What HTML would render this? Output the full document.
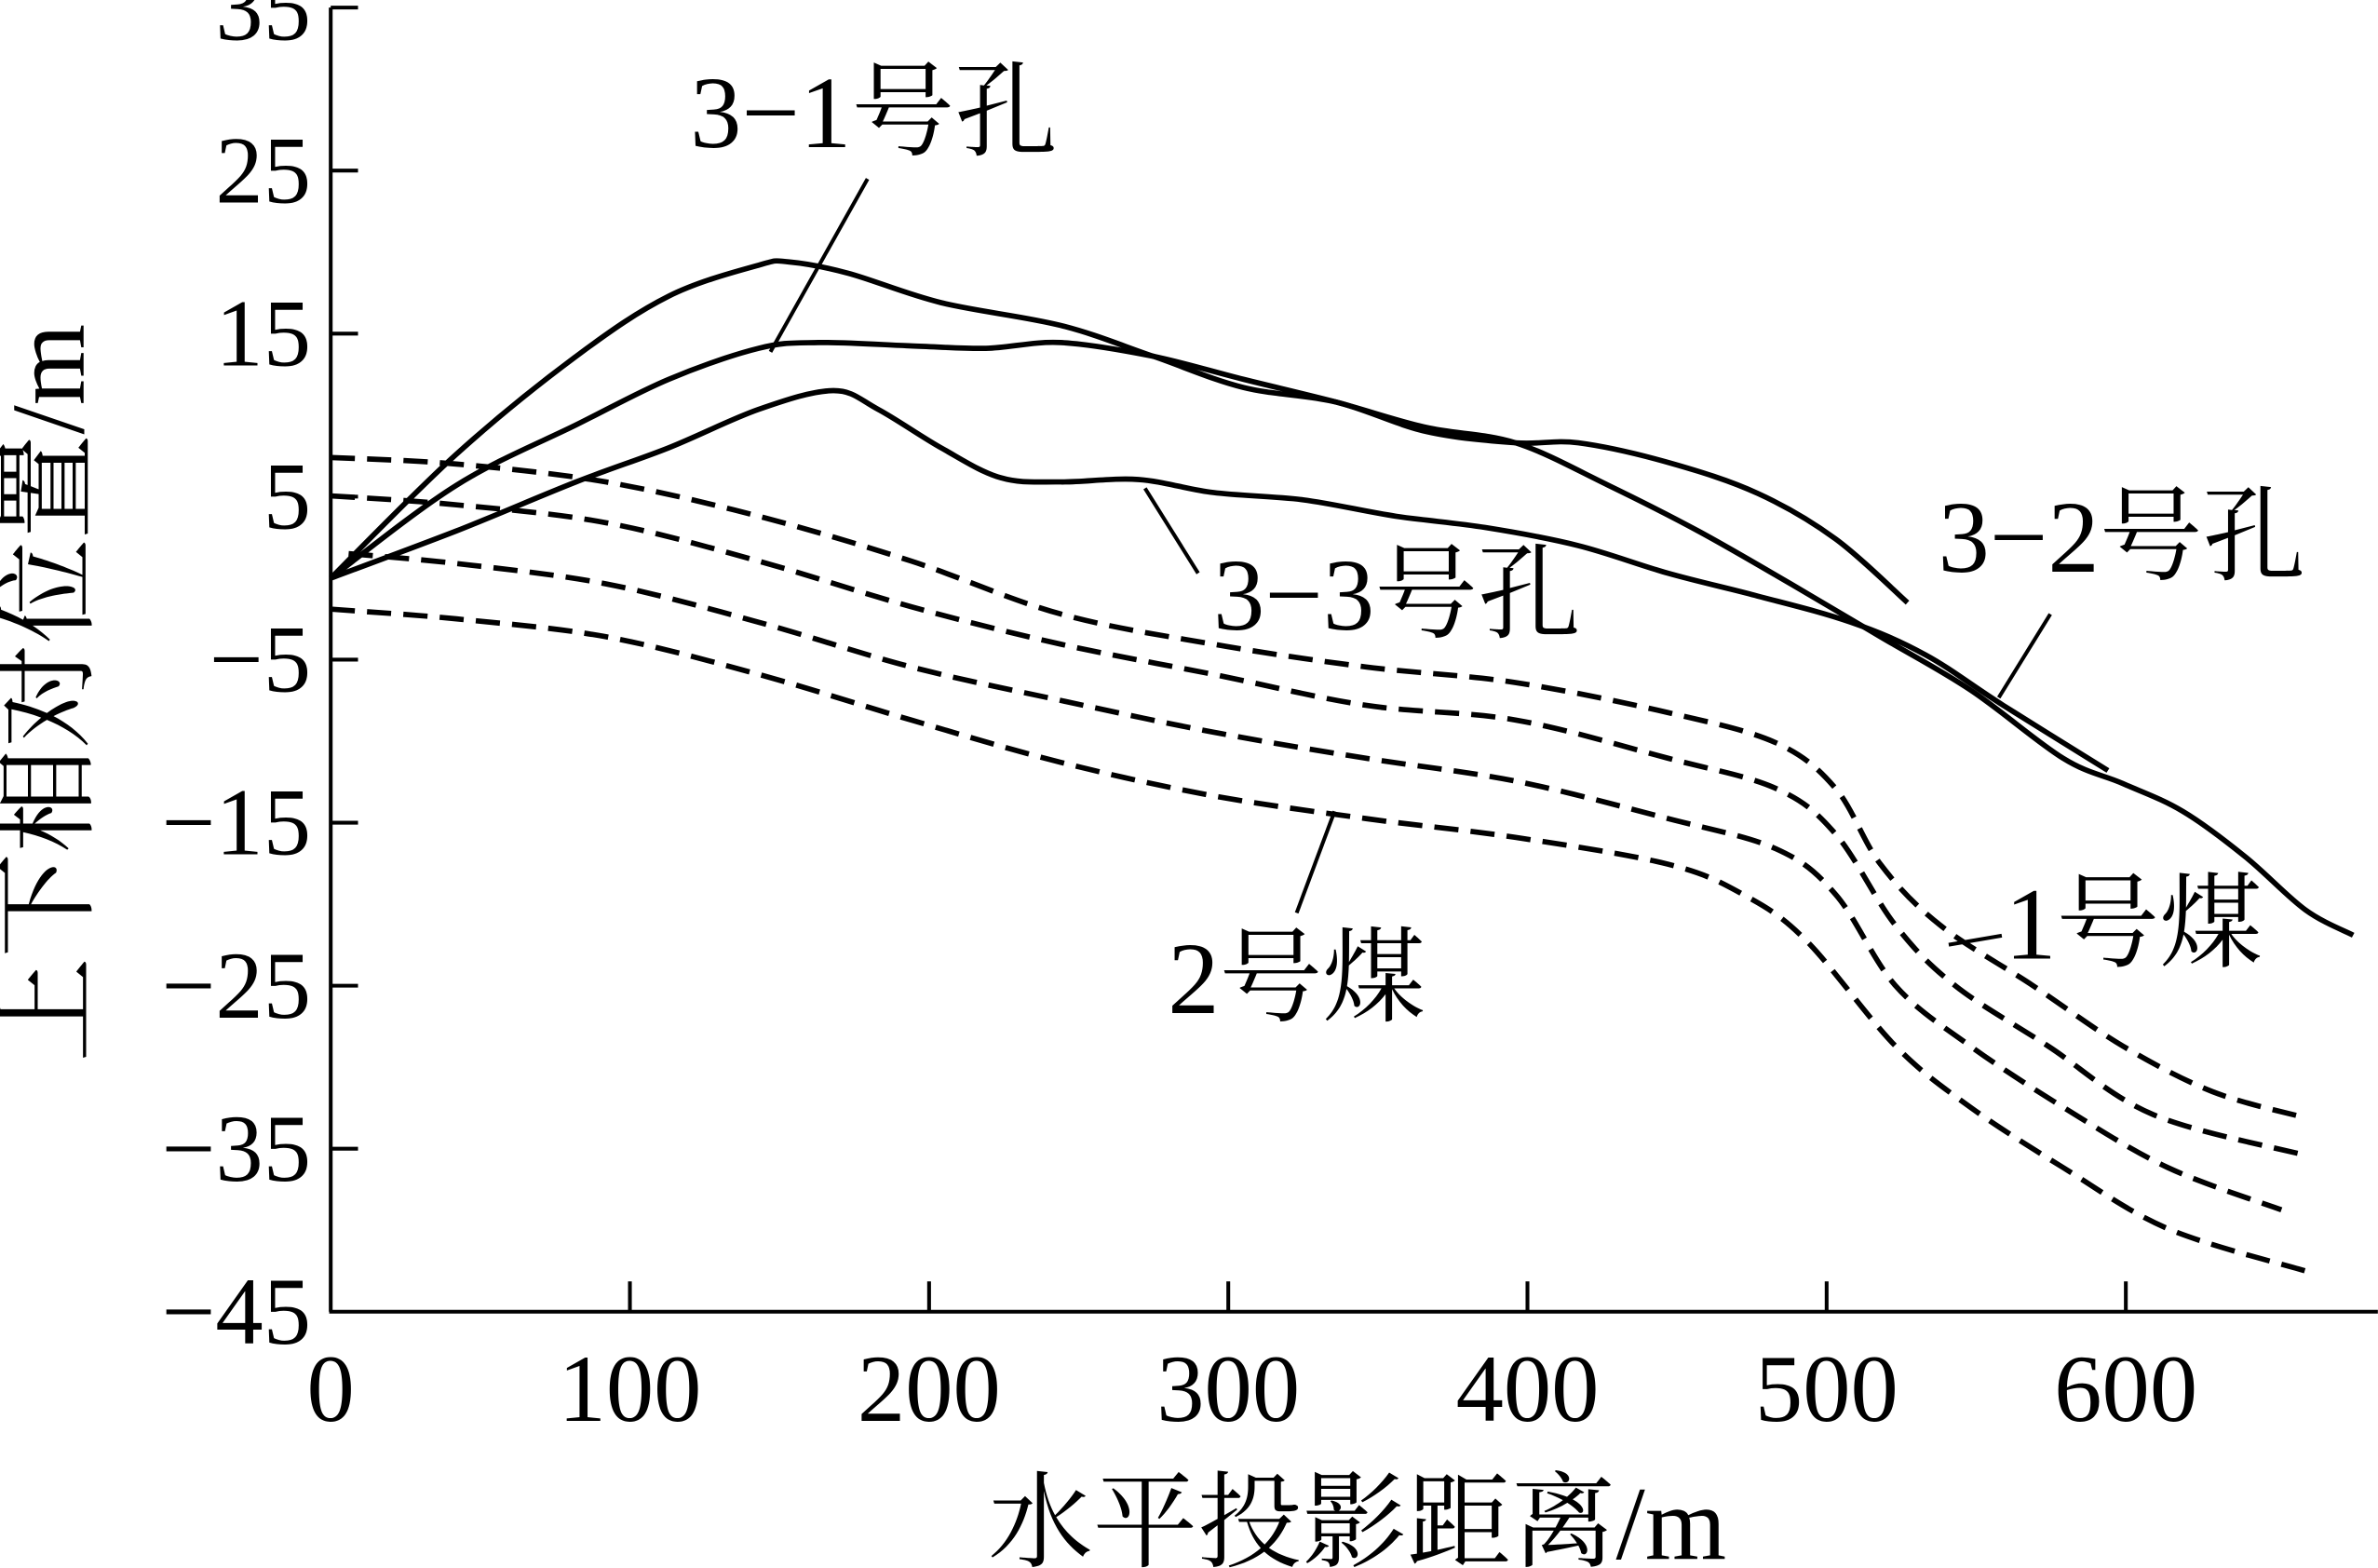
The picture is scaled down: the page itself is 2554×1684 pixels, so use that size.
<!DOCTYPE html>
<html><head><meta charset="utf-8"><style>
html,body{margin:0;padding:0;background:#fff;}
svg{display:block;}
text{font-family:"Liberation Serif","Noto Serif CJK SC",serif;fill:#000;}
</style></head><body>
<svg id="chart" width="2554" height="1684" viewBox="0 0 1568 1034" xmlns="http://www.w3.org/2000/svg">
<g id="axes"></g>
<g id="series"></g>
<g id="annot"></g>
</svg>
<script>
const xTicks=[0,100,200,300,400,500,600];
const yTicks=[35,25,15,5,-5,-15,-25,-35,-45];
const yTickLabels=["35","25","15","5","−5","−15","−25","−35","−45"];
const hole31X=[0,42,82,113,143,153,173,204,244,275,305,336,366,396,417,447,477,503,527];
const hole31Y=[0,7.6,13.6,17.3,19.2,19.4,18.7,16.9,15.5,13.6,11.7,10.8,9.0,8.3,8.3,7.1,5.2,2.4,-1.5];
const hole32X=[0,42,82,113,143,163,194,219,244,275,305,336,366,396,427,457,488,518,548,579,599,619,640,660,676];
const hole32Y=[0,5.7,9.4,12.2,14.1,14.45,14.25,14.1,14.45,13.6,12.2,10.8,9.25,8.3,5.7,2.9,-0.35,-3.6,-6.85,-11.05,-12.6,-14.3,-17.1,-20.35,-21.9];
const hole33X=[0,42,82,113,143,168,183,204,224,244,270,295,325,356,386,417,447,477,508,533,559,594];
const hole33Y=[0,2.9,5.9,8.0,10.35,11.5,10.35,8.0,6.15,5.9,6.05,5.25,4.8,3.8,3.1,2.0,0.3,-1.1,-2.7,-4.7,-7.8,-11.8];
const coalAX=[0,42,92,143,194,244,295,346,396,447,483,503,518,538,569,599,629,660];
const coalAY=[7.4,7.0,5.9,3.8,1.05,-2.2,-4.05,-5.45,-6.4,-8.25,-10.1,-12.9,-17.55,-21.3,-25.0,-28.7,-31.5,-33.1];
const coalBX=[0,42,92,143,194,244,295,346,396,447,483,503,523,543,574,609,660];
const coalBY=[5.05,4.5,3.4,1.05,-1.75,-4.05,-5.9,-7.8,-8.7,-11.05,-12.9,-15.7,-21.3,-25.0,-28.7,-32.9,-35.4];
const coalCX=[6,42,92,143,194,244,295,346,396,447,483,503,523,548,579,614,652];
const coalCY=[1.5,0.9,-0.35,-2.7,-5.45,-7.5,-9.45,-11.05,-12.45,-14.75,-16.6,-19.4,-25.0,-28.7,-32.45,-36.15,-38.75];
const coalDX=[0,42,92,143,194,244,295,346,396,447,472,493,523,548,579,614,660];
const coalDY=[-1.9,-2.5,-3.6,-5.9,-8.7,-11.3,-13.35,-14.75,-15.9,-17.55,-19.4,-22.2,-28.7,-32.45,-36.15,-39.9,-42.5];

const NS="http://www.w3.org/2000/svg";
const X0=218,XS=1.973,YB=865,YS=10.75;
function sx(v){return X0+v*XS;}
function sy(v){return YB-(v+45)*YS;}
function mk(tag,attrs,parent){const e=document.createElementNS(NS,tag);for(const k in attrs)e.setAttribute(k,attrs[k]);parent.appendChild(e);return e;}
const axes=document.getElementById('axes'),series=document.getElementById('series'),annot=document.getElementById('annot');

const yAxis=mk('line',{x1:X0,y1:sy(35),x2:X0,y2:YB,stroke:'#000','stroke-width':2.5},axes);


const xAxis=mk('line',{x1:X0-1,y1:YB,x2:1568,y2:YB,stroke:'#000','stroke-width':2.5},axes);


xTicks.forEach(v=>{
  if(v>0){const t=mk('line',{x1:sx(v),y1:YB,x2:sx(v),y2:YB-20,stroke:'#000','stroke-width':2.5},axes);
  
  }
  const l=mk('text',{x:sx(v),y:937,'text-anchor':'middle','font-size':63},axes);
  l.textContent=String(v);
  
  
});
yTicks.forEach((v,i)=>{
  if(v>-45){const t=mk('line',{x1:X0,y1:sy(v),x2:X0+18,y2:sy(v),stroke:'#000','stroke-width':2.5},axes);
  
  }
  const l=mk('text',{x:205,y:sy(v)+21,'text-anchor':'end','font-size':63},axes);
  l.textContent=yTickLabels[i];
  
  
});
const xt=mk('text',{x:895,y:1028,'text-anchor':'middle','font-size':69},axes);
xt.textContent='水平投影距离/m';


const yt=mk('text',{x:0,y:0,'text-anchor':'middle','font-size':69,transform:'translate(55,457) rotate(-90)'},axes);
yt.textContent='上下相对位置/m';



function pathFrom(xs,ys){
  const p=xs.map((x,i)=>[sx(x),sy(ys[i])]);
  let d='M'+p[0][0].toFixed(1)+','+p[0][1].toFixed(1);
  for(let i=0;i<p.length-1;i++){
    const p0=p[i-1]||p[i],p1=p[i],p2=p[i+1],p3=p[i+2]||p[i+1];
    const c1=[p1[0]+(p2[0]-p0[0])/6,p1[1]+(p2[1]-p0[1])/6];
    const c2=[p2[0]-(p3[0]-p1[0])/6,p2[1]-(p3[1]-p1[1])/6];
    d+=' C'+c1.map(n=>n.toFixed(1))+' '+c2.map(n=>n.toFixed(1))+' '+p2.map(n=>n.toFixed(1));
  }
  return d;
}
function drawLine(xs,ys,dashed,name){
  const e=mk('path',{d:pathFrom(xs,ys),fill:'none',stroke:'#000','stroke-width':3.5,'stroke-dasharray':dashed?'16,8':'none','stroke-linejoin':'round'},series);
  
  
}
drawLine(hole31X,hole31Y,false,'hole-3-1-line');
drawLine(hole32X,hole32Y,false,'hole-3-2-line');
drawLine(hole33X,hole33Y,false,'hole-3-3-line');
drawLine(coalAX,coalAY,true,'coal-seam-boundary-1');
drawLine(coalBX,coalBY,true,'coal-seam-boundary-2');
drawLine(coalCX,coalCY,true,'coal-seam-boundary-3');
drawLine(coalDX,coalDY,true,'coal-seam-boundary-4');

function label(txt,x,y,name){
  const t=mk('text',{x:x,y:y,'font-size':68},annot);
  t.textContent=txt;
  
  
}
function leader(x1,y1,x2,y2,name){
  const l=mk('line',{x1:x1,y1:y1,x2:x2,y2:y2,stroke:'#000','stroke-width':2.5},annot);
  
  
}
label('3−1号孔',455,97,'label-hole-3-1'); leader(572,118,508,232,'leader-hole-3-1');
label('3−2号孔',1278,377,'label-hole-3-2'); leader(1352,405,1318,460,'leader-hole-3-2');
label('3−3号孔',800,415,'label-hole-3-3'); leader(790,378,755,322,'leader-hole-3-3');
label('1号煤',1322,632,'label-coal-1'); leader(1285,623,1320,617,'leader-coal-1');
label('2号煤',770,668,'label-coal-2'); leader(880,535,855,602,'leader-coal-2');
</script>
</body></html>
